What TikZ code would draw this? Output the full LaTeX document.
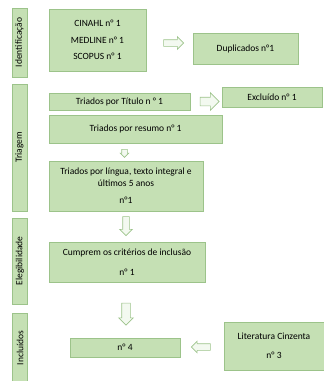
\documentclass[tikz,border=0pt]{standalone}
\usepackage{fontspec}
\setmainfont{Carlito}
\usetikzlibrary{shapes.arrows}

\definecolor{boxfill}{HTML}{C5E0B4}
\definecolor{boxline}{HTML}{9CC38A}

\tikzset{
  box/.style={draw=boxline,fill=boxfill,line width=0.8pt,inner sep=0pt,font=\fontsize{9.5}{11.5}\selectfont,align=center},
  stage/.style={box,rotate=90,minimum height=15pt},
  blockarrow/.style n args={3}{single arrow,draw=boxline,fill=white!80!boxfill,line width=0.6pt,inner xsep=0pt,minimum height=#1,inner ysep=#2,single arrow head extend=#3}
}

\begin{document}
\begin{tikzpicture}[x=1pt,y=-1pt]
      \useasboundingbox (0,0) rectangle (324,381);
      % fases
      \node[stage,minimum width=69pt] (ident) at (19.5,42.5) {Identificação};
      \node[stage,minimum width=127pt] (triag) at (19.5,147.5) {Triagem};
      \node[stage,minimum width=86pt] (eleg) at (20,261) {Elegibilidade};
      \node[stage,minimum width=70pt] (incl) at (20,348) {Incluídos};
      % caixas
      \node[box,minimum width=97pt,minimum height=62pt] (bases) at (97.5,40) {CINAHL n° 1\\[5pt]MEDLINE n° 1\\[5pt]SCOPUS n° 1};
      \node[box,minimum width=105pt,minimum height=31pt] (dupl) at (245.5,48.5) {Duplicados n°1};
      \node[box,minimum width=141pt,minimum height=17pt] (titulo) at (119.5,101.5) {Triados por Título n ° 1};
      \node[box,minimum width=100pt,minimum height=20pt] (excl) at (272,97) {Excluído n° 1};
      \node[box,minimum width=173pt,minimum height=28pt] (resumo) at (135.5,129) {Triados por resumo n° 1};
      \node[box,minimum width=154pt,minimum height=50pt] (lingua) at (126,186) {Triados por língua, texto integral e\\últimos 5 anos\\[6pt]n°1};
      \node[box,minimum width=156pt,minimum height=40pt] (criterios) at (127,262) {Cumprem os critérios de inclusão\\[8pt]n° 1};
      \node[box,minimum width=110pt,minimum height=19pt] (final) at (125,347.5) {n° 4};
      \node[box,minimum width=100pt,minimum height=48pt] (cinzenta) at (274,346) {Literatura Cinzenta\\[8pt]n° 3};
      % setas
      \node[blockarrow={20pt}{3pt}{3pt}] (s1) at (172,43) {};
      \node[blockarrow={19pt}{4pt}{4.5pt}] (s2) at (207.5,101.5) {};
      \node[blockarrow={8pt}{2.5pt}{1.5pt},rotate=-90] (s3) at (124.5,152) {};
      \node[blockarrow={19pt}{3pt}{3pt},rotate=-90] (s4) at (126,224.5) {};
      \node[blockarrow={22pt}{4pt}{3pt},rotate=-90] (s5) at (126,312) {};
      \node[blockarrow={19pt}{3pt}{2.5pt},rotate=180] (s6) at (202.5,347) {};
    \end{tikzpicture}
\end{document}
